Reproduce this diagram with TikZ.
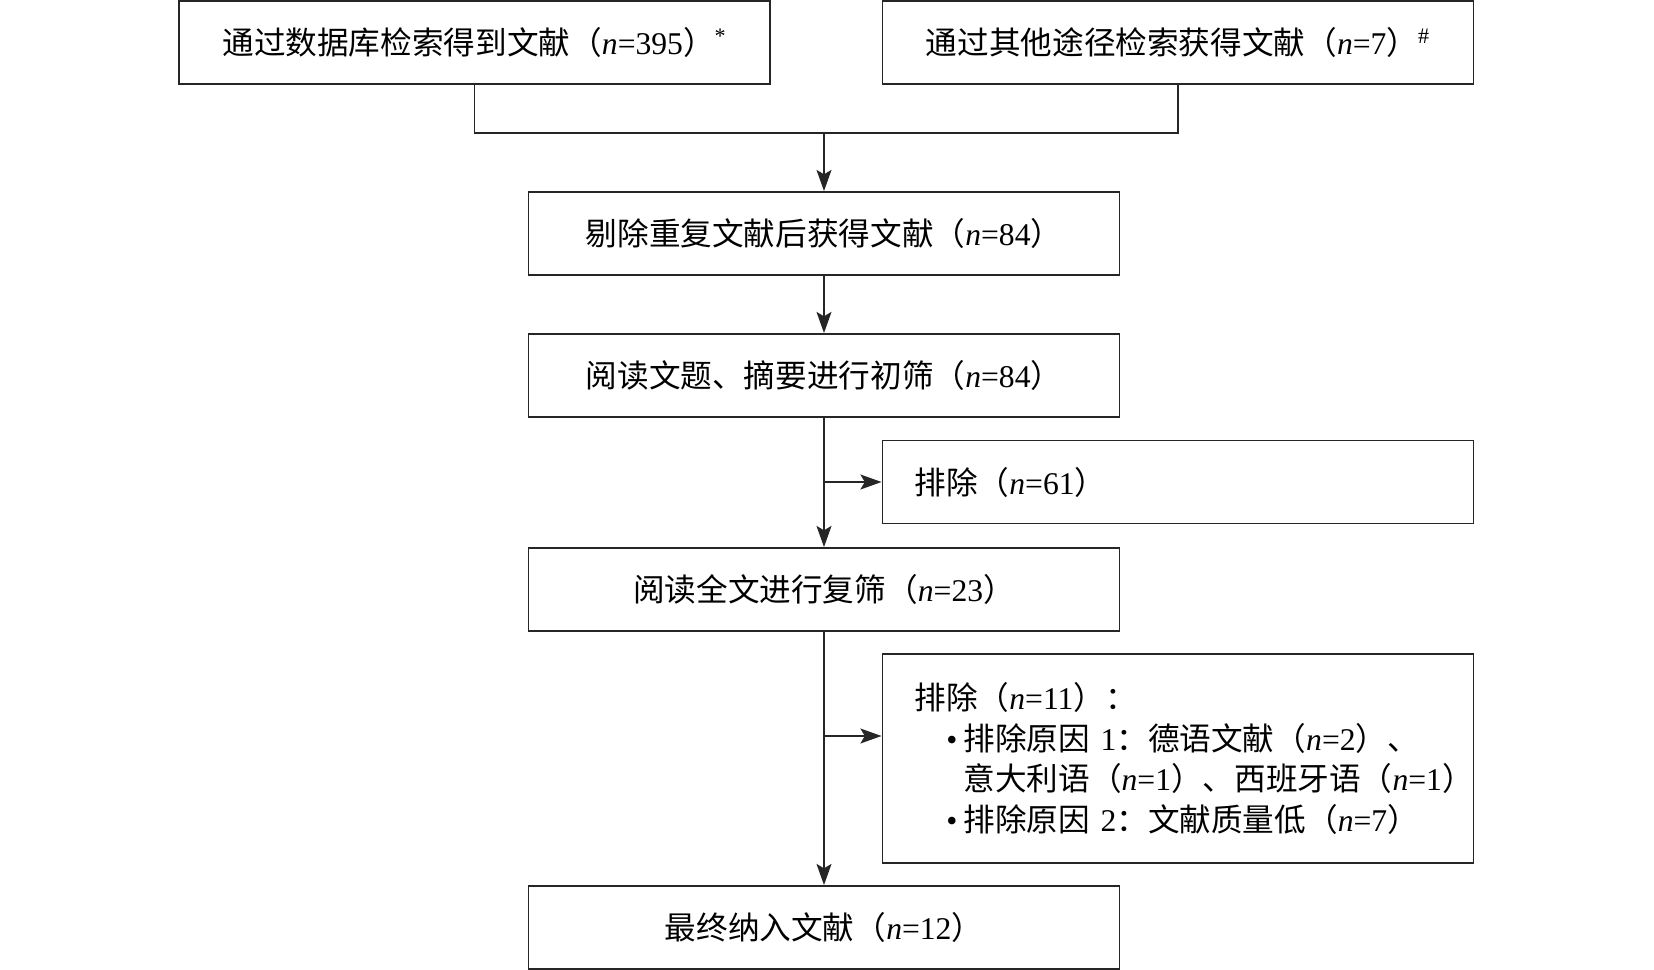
\documentclass[tikz,border=0pt]{standalone}
\usepackage{fontspec}
\setmainfont{Noto Sans CJK SC}
\newfontfamily\lat{Liberation Serif}
\usepackage{tikz}
\usetikzlibrary{arrows.meta}
\def\nn#1{{\lat\textit{n}=#1}}
\def\bul{\llap{{\lat\textbullet}\hspace{0.12cm}}}

\begin{document}
\begin{tikzpicture}[
	line/.style={draw=black!85,line width=1.1pt},
	arr/.style={line,-{Stealth[length=12pt,width=8.5pt,inset=2.5pt]}},
	stage/.style={line,minimum width=11.82cm,minimum height=1.66cm,inner sep=0pt,font=\fontsize{18}{23}\selectfont},
	excl/.style={stage,minimum width=0pt,inner xsep=0.64cm,text width=10.54cm,align=left}]
					\useasboundingbox (0,0) rectangle (33.08,-19.4);
					\node[stage] (dba) at (9.49,-0.85) {通过数据库检索得到文献（\nn{395}）\textsuperscript{\lat *}};
					\node[stage] (oth) at (23.56,-0.85) {通过其他途径检索获得文献（\nn{7}）\textsuperscript{\lat\#}};
					\node[stage] (dup) at (16.48,-4.67) {剔除重复文献后获得文献（\nn{84}）};
					\node[stage] (scr) at (16.48,-7.51) {阅读文题、摘要进行初筛（\nn{84}）};
					\node[excl] (ex1) at (23.56,-9.64) {排除（\nn{61}）};
					\node[stage] (ful) at (16.48,-11.79) {阅读全文进行复筛（\nn{23}）};
					\node[excl,minimum height=4.18cm] (ex2) at (23.56,-15.17) {排除（\nn{11}）：\\
						\hspace*{0.98cm}\bul 排除原因 {\lat 1}：德语文献（\nn{2}）、\\
						\hspace*{0.98cm}意大利语（\nn{1}）、西班牙语（\nn{1}）\\
						\hspace*{0.98cm}\bul 排除原因 {\lat 2}：文献质量低（\nn{7}）};
					\node[stage] (fin) at (16.48,-18.55) {最终纳入文献（\nn{12}）};
					\coordinate (m) at (16.48,-2.66);
					\coordinate (j1) at (16.48,-9.64);
					\coordinate (j2) at (16.48,-14.72);
					\draw[line] (dba.south) -- (dba.south |- m) -- (oth.south |- m) -- (oth.south);
					\draw[arr] (m) -- (dup);
					\draw[arr] (dup) -- (scr);
					\draw[arr] (scr) -- (ful);
					\draw[arr] (j1) -- (ex1);
					\draw[arr] (ful) -- (fin);
					\draw[arr] (j2) -- (j2 -| ex2.west);
				\end{tikzpicture}
\end{document}
